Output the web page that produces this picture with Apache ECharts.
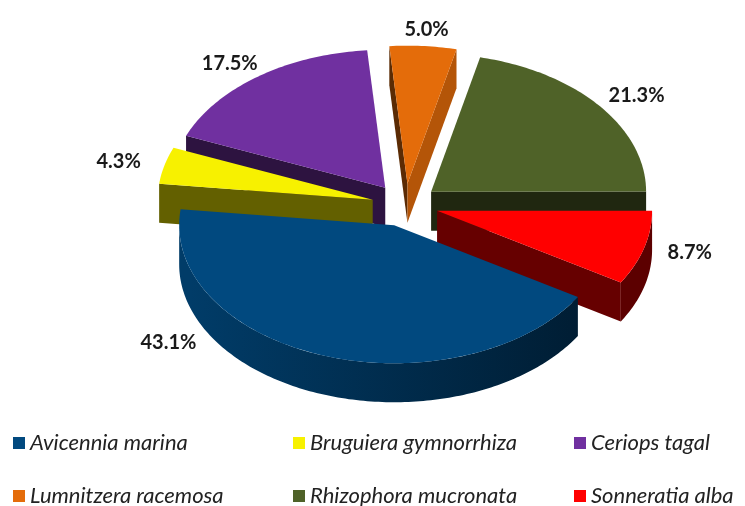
<!DOCTYPE html>
<html>
<head>
<meta charset="utf-8">
<script src="https://cdn.jsdelivr.net/npm/echarts@6/dist/echarts.min.js"></script>
<style>
  html, body { margin: 0; padding: 0; background: #ffffff; }
  #chart { width: 745px; height: 506px; }
</style>
</head>
<body>
<div id="chart"></div>
<script>
// Mangrove species composition (% of individuals)
const species = ['Avicennia marina', 'Bruguiera gymnorrhiza', 'Ceriops tagal',
                 'Lumnitzera racemosa', 'Rhizophora mucronata', 'Sonneratia alba'];
const shares = [43.1, 4.3, 17.5, 5.0, 21.3, 8.7];
const palette = ['#01497F', '#F7F100', '#7030A0', '#E46C0A', '#4F6228', '#FF0000'];

// Geometry of the tilted, exploded disc (pixels / degrees)
const layout = {
  cx: 405, cy: 205,     // centre of the top ellipse
  rx: 215, ry: 138,     // radii of the top ellipse
  depth: 39,            // disc thickness
  explode: 0.155,       // slice offset as a fraction of the radius
  startAngle: 121.3,    // first slice starts here, clockwise from 12 o'clock
  labelRadiusX: 1.22,
  labelRadiusY: 1.12,
  labelMaxY: 343
};

// legend grid: three columns, two rows
const legendCols = [13, 293, 574];
const legendRows = [432, 485];

const total = shares.reduce((a, b) => a + b, 0);
const rad = d => d * Math.PI / 180;
const norm = a => ((a % 360) + 360) % 360;

function shade(hex, k) {
  const n = parseInt(hex.slice(1), 16);
  const r = Math.round(((n >> 16) & 255) * k);
  const g = Math.round(((n >> 8) & 255) * k);
  const b = Math.round((n & 255) * k);
  return 'rgb(' + r + ',' + g + ',' + b + ')';
}

// start angle of slice idx (degrees, clockwise from 12 o'clock)
function sliceStart(idx) {
  let a = layout.startAngle;
  for (let k = 0; k < idx; k++) a += shares[k] / total * 360;
  return a;
}

function sliceRenderer(idx) {
  return function (params, api) {
    const value = api.value(0);
    const a0 = sliceStart(idx);
    const a1 = a0 + value / total * 360;
    const mid = (a0 + a1) / 2;
    const L = layout;
    const color = palette[idx];

    const ox = L.cx + L.explode * L.rx * Math.sin(rad(mid));
    const oy = L.cy - L.explode * L.ry * Math.cos(rad(mid));
    const pt = (deg, dz) => [ox + L.rx * Math.sin(rad(deg)),
                             oy - L.ry * Math.cos(rad(deg)) + (dz || 0)];
    const arc = (from, to, dz) => {
      const n = Math.max(2, Math.ceil(Math.abs(to - from)));
      const out = [];
      for (let k = 0; k <= n; k++) out.push(pt(from + (to - from) * k / n, dz));
      return out;
    };

    const children = [];
    // nearer slices paint their sides later
    const sideZ = 10 + Math.round((1 - Math.cos(rad(mid))) * 20);

    // curved outer wall, only the part facing the viewer (90..270 deg)
    const s = norm(a0), e = s + (a1 - a0);
    for (let k = -1; k <= 1; k++) {
      const lo = Math.max(s, 90 + 360 * k), hi = Math.min(e, 270 + 360 * k);
      if (hi > lo + 0.01) {
        children.push({
          type: 'polygon', z2: sideZ,
          shape: { points: arc(lo, hi, 0).concat(arc(hi, lo, L.depth)) },
          style: {
            fill: {
              type: 'linear', global: true, x: 190, y: 0, x2: 620, y2: 0,
              colorStops: [
                { offset: 0, color: shade(color, 0.82) },
                { offset: 1, color: shade(color, 0.36) }
              ]
            }
          }
        });
      }
    }

    // flat radial cut faces
    const apex = [ox, oy];
    const apexLow = [ox, oy + L.depth];
    const radialFace = (deg, normalDeg) => {
      const k = 0.4 + 0.4 * Math.max(0, Math.sin(rad(normalDeg)));
      children.push({
        type: 'polygon', z2: sideZ + 1,
        shape: { points: [apex, pt(deg, 0), pt(deg, L.depth), apexLow] },
        style: { fill: shade(color, k) }
      });
    };
    const ns = norm(a0), ne = norm(a1);
    if (ns > 180 && ns < 360) radialFace(a0, a0 - 90);
    if (ne > 0.01 && ne < 180.01) radialFace(a1, a1 + 90);

    // top face
    children.push({
      type: 'polygon', z2: 100,
      shape: { points: [apex].concat(arc(a0, a1, 0)) },
      style: { fill: color }
    });

    // percentage label outside the slice
    let lx = ox + L.rx * L.labelRadiusX * Math.sin(rad(mid));
    let ly = oy - L.ry * L.labelRadiusY * Math.cos(rad(mid));
    if (ly > L.labelMaxY) {
      ly = L.labelMaxY;
      const t = Math.min(1, Math.max(0, (ly - oy - L.depth) / (L.ry * L.labelRadiusY)));
      lx = ox + Math.sign(Math.sin(rad(mid))) * L.rx * L.labelRadiusX * Math.sqrt(1 - t * t);
    }
    children.push({
      type: 'text', z2: 300,
      style: {
        text: value.toFixed(1) + '%',
        x: lx, y: ly, align: 'center', verticalAlign: 'middle',
        fontFamily: 'Lato', fontWeight: 'bold', fontSize: 20, fill: '#1a1a1a'
      }
    });

    return { type: 'group', children: children };
  };
}

const chart = echarts.init(document.getElementById('chart'), null, { renderer: 'canvas' });
chart.setOption({
  animation: false,
  backgroundColor: '#ffffff',
  color: palette,
  // one legend entry per cell of the 3 x 2 grid
  legend: species.map((name, i) => ({
    data: [name],
    left: legendCols[i % 3],
    top: legendRows[Math.floor(i / 3)],
    padding: 0,
    icon: 'rect',
    itemWidth: 12,
    itemHeight: 12,
    textStyle: {
      fontFamily: 'Lato', fontStyle: 'italic', fontSize: 22,
      lineHeight: 22, color: '#222222'
    }
  })),
  series: species.map((name, i) => ({
    type: 'custom',
    name: name,
    coordinateSystem: 'none',
    silent: true,
    data: [[shares[i]]],
    renderItem: sliceRenderer(i)
  }))
});
</script>
</body>
</html>
